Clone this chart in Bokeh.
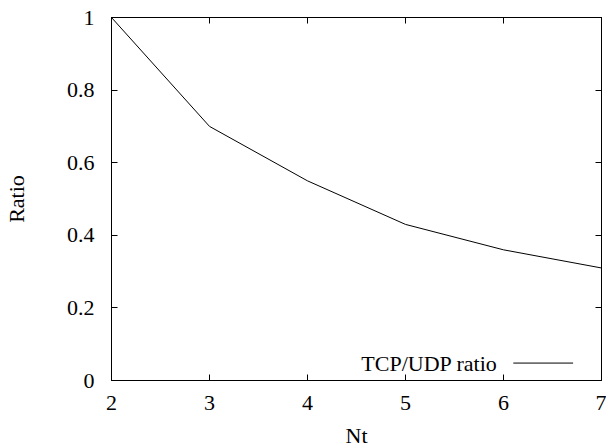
from bokeh.plotting import figure
from bokeh.models import LinearAxis, Range1d, FixedTicker, Label, CustomJSTickFormatter
from bokeh.embed import file_html
from bokeh.resources import INLINE

nt = [2, 3, 4, 5, 6, 7]
ratio = [1.0, 0.70, 0.55, 0.43, 0.36, 0.31]
x_ticks = [2, 3, 4, 5, 6, 7]
y_ticks = [0, 0.2, 0.4, 0.6, 0.8, 1]
series_name = "TCP/UDP ratio"

FONT = "Liberation Serif"
FS = "22px"

p = figure(frame_width=490, frame_height=363, output_backend="svg", toolbar_location=None,
           x_range=Range1d(2, 7), y_range=Range1d(0, 1),
           min_border_left=105, min_border_right=5, min_border_top=17, min_border_bottom=67)
p.background_fill_color = "white"
p.border_fill_color = "white"
p.outline_line_color = "black"
p.outline_line_width = 1
p.xgrid.visible = False
p.ygrid.visible = False

def style(ax, ticks, show_labels=True):
    ax.ticker = FixedTicker(ticks=ticks)
    ax.minor_tick_line_color = None
    ax.major_tick_in = 6
    ax.major_tick_out = 0
    ax.axis_line_color = "black"
    ax.major_tick_line_color = "black"
    ax.major_label_text_font = FONT
    ax.major_label_text_font_size = FS if show_labels else "1px"
    ax.major_label_text_font_style = "normal"
    ax.major_label_text_color = "black"
    ax.axis_label_text_font = FONT
    ax.axis_label_text_font_size = FS
    ax.axis_label_text_font_style = "normal"
    ax.axis_label_text_color = "black"
    if not show_labels:
        ax.formatter = CustomJSTickFormatter(code="return ''")
        ax.major_label_standoff = 0

style(p.xaxis[0], x_ticks)
style(p.yaxis[0], y_ticks)
p.xaxis[0].axis_label = "Nt"
p.yaxis[0].axis_label = "Ratio"
p.xaxis[0].major_label_standoff = 15
p.yaxis[0].major_label_standoff = 17
p.xaxis[0].axis_label_standoff = 10
p.yaxis[0].axis_label_standoff = 35
p.yaxis[0].major_label_orientation = "horizontal"

ax_top = LinearAxis()
style(ax_top, x_ticks, show_labels=False)
p.add_layout(ax_top, "above")
ax_right = LinearAxis()
style(ax_right, y_ticks, show_labels=False)
p.add_layout(ax_right, "right")

p.line(nt, ratio, line_color="black", line_width=1)

# key (gnuplot style: text then sample line)
p.add_layout(Label(x=5.94, y=0.048, text=series_name, text_align="right", text_baseline="middle",
                   text_font=FONT, text_font_size=FS, text_color="black"))
p.segment(x0=[6.10], y0=[0.048], x1=[6.71], y1=[0.048], line_color="black", line_width=1)

open("out.html", "w").write(file_html(p, INLINE))
